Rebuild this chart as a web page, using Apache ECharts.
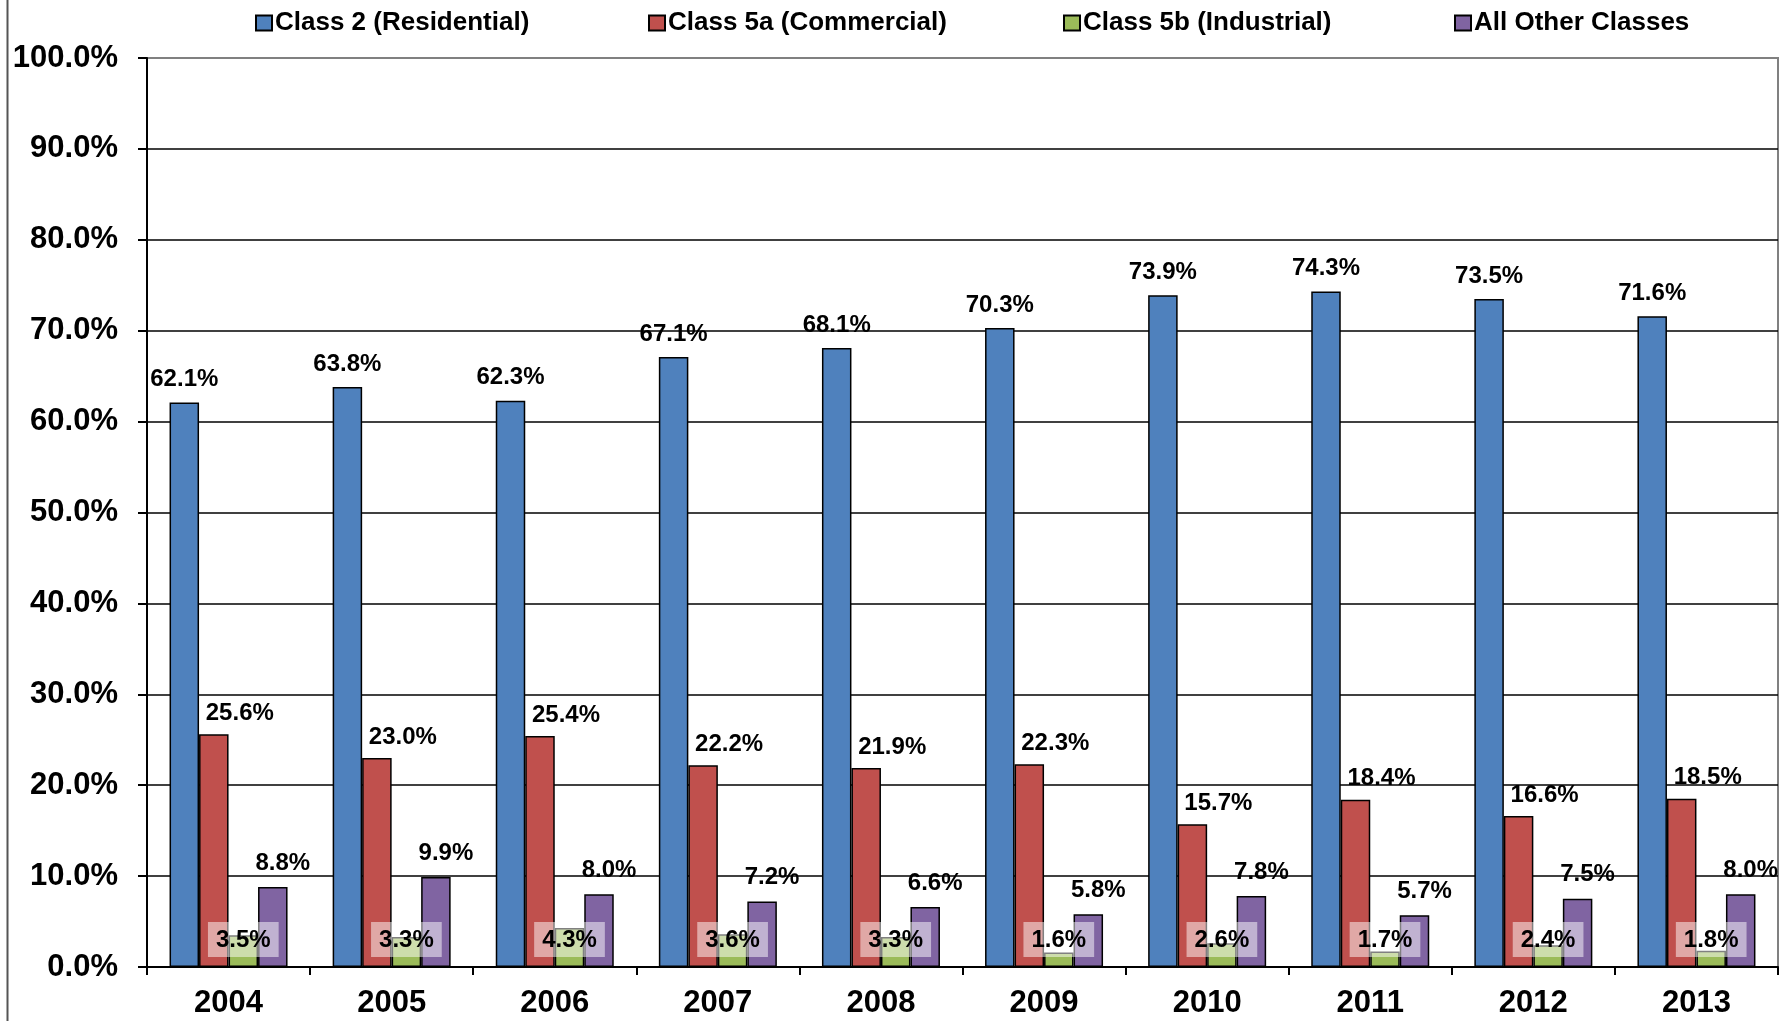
<!DOCTYPE html>
<html>
<head>
<meta charset="utf-8">
<title>Share by class</title>
<script src="https://cdn.jsdelivr.net/npm/echarts@6/dist/echarts.min.js"></script>
<style>
  html, body { margin: 0; padding: 0; background: #fff; }
  #chart { width: 1788px; height: 1021px; }
</style>
</head>
<body>
<div id="chart"></div>
<script>
const years = ['2004', '2005', '2006', '2007', '2008', '2009', '2010', '2011', '2012', '2013']
const residential = [62.1, 63.8, 62.3, 67.1, 68.1, 70.3, 73.9, 74.3, 73.5, 71.6]
const commercial = [25.6, 23.0, 25.4, 22.2, 21.9, 22.3, 15.7, 18.4, 16.6, 18.5]
const industrial = [3.5, 3.3, 4.3, 3.6, 3.3, 1.6, 2.6, 1.7, 2.4, 1.8]
const otherClasses = [8.8, 9.9, 8.0, 7.2, 6.6, 5.8, 7.8, 5.7, 7.5, 8.0]
const seriesNames = ['Class 2 (Residential)', 'Class 5a (Commercial)', 'Class 5b (Industrial)', 'All Other Classes']
const yTicks = [0, 10, 20, 30, 40, 50, 60, 70, 80, 90, 100]

const font = '"Liberation Sans", Arial, sans-serif'
const colors = ['#4F81BD', '#C0504D', '#9BBB59', '#8064A2']
const pct = v => v.toFixed(1) + '%'

const chart = echarts.init(document.getElementById('chart'))

function legendAt(name, left) {
  return {
    data: [name],
    left: left,
    top: 5,
    itemWidth: 16,
    itemHeight: 15,
    itemGap: 0,
    icon: 'rect',
    selectedMode: false,
    textStyle: { fontFamily: font, fontWeight: 'bold', fontSize: 26, color: '#000', padding: [0, 0, 0, -2] }
  }
}

function barSeries(name, data, color, label) {
  return {
    name: name,
    type: 'bar',
    data: data,
    barWidth: 29.5,
    barGap: '0%',
    itemStyle: { color: color, borderColor: '#000', borderWidth: 1.5 },
    label: Object.assign({
      show: true,
      formatter: p => pct(p.value),
      fontFamily: font,
      fontWeight: 'bold',
      fontSize: 24,
      lineHeight: 24,
      color: '#000'
    }, label),
    animation: false
  }
}

chart.setOption({
  animation: false,
  legend: [
    legendAt(seriesNames[0], 250),
    legendAt(seriesNames[1], 643),
    legendAt(seriesNames[2], 1058),
    legendAt(seriesNames[3], 1449)
  ],
  grid: {
    left: 147,
    right: 10,
    top: 58,
    bottom: 54,
    show: true,
    borderColor: '#808080',
    borderWidth: 2
  },
  xAxis: {
    type: 'category',
    data: years,
    boundaryGap: true,
    axisLine: { lineStyle: { color: '#000', width: 2 } },
    axisTick: { show: true, length: 8, inside: false, lineStyle: { color: '#000', width: 2 } },
    axisLabel: { fontFamily: font, fontWeight: 'bold', fontSize: 31, lineHeight: 31, color: '#000', margin: 21 }
  },
  yAxis: {
    type: 'value',
    min: yTicks[0],
    max: yTicks[yTicks.length - 1],
    interval: 10,
    axisLine: { show: true, lineStyle: { color: '#000', width: 2 } },
    axisTick: { show: true, length: 9, lineStyle: { color: '#000', width: 2 } },
    axisLabel: { formatter: v => pct(v), fontFamily: font, fontWeight: 'bold', fontSize: 31, color: '#000', margin: 29 },
    splitLine: { show: true, showMaxLine: false, lineStyle: { color: '#000', width: 1.5 } }
  },
  graphic: [{
    type: 'line',
    shape: { x1: 7.5, y1: 0, x2: 7.5, y2: 1021 },
    style: { stroke: '#555', lineWidth: 2 }
  }],
  series: [
    barSeries(seriesNames[0], residential, colors[0], { position: 'top', distance: 11 }),
    barSeries(seriesNames[1], commercial, colors[1], { position: 'top', distance: 9, offset: [26, 0] }),
    barSeries(seriesNames[2], industrial, colors[2], {
      position: 'insideBottom',
      distance: 10,
      backgroundColor: 'rgba(255,255,255,0.5)',
      padding: [6, 8, 5, 8]
    }),
    barSeries(seriesNames[3], otherClasses, colors[3], { position: 'top', distance: 12, offset: [10, 0] })
  ]
})
</script>
</body>
</html>
